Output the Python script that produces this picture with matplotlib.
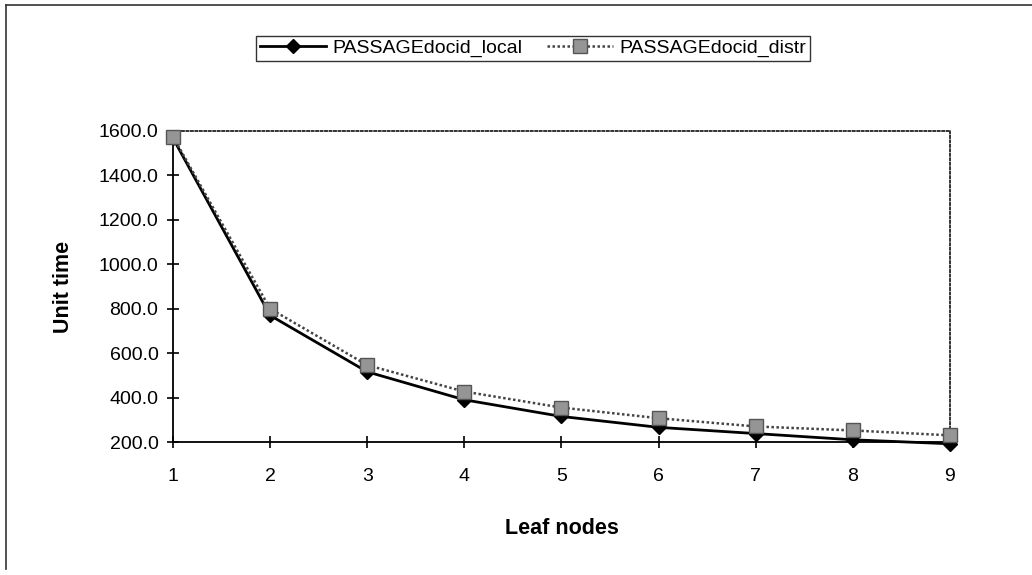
import matplotlib.pyplot as plt
from matplotlib.lines import Line2D

leaf_nodes = [1, 2, 3, 4, 5, 6, 7, 8, 9]
local_time = [1568, 770, 516, 390, 315, 266, 238, 210, 192]
distr_time = [1575, 800, 546, 427, 355, 307, 270, 252, 230]
y_ticks = [200, 400, 600, 800, 1000, 1200, 1400, 1600]

plt.rcParams["font.family"] = ["Liberation Sans", "DejaVu Sans"]

fig = plt.figure(figsize=(10.32, 5.75), dpi=100)
ax = fig.add_axes([0.1676, 0.2313, 0.7529, 0.5409])

ax.plot(leaf_nodes, local_time, color="black", lw=2.0, marker="D", ms=7,
        mfc="black", mec="black", clip_on=False, zorder=3,
        label="PASSAGEdocid_local")
ax.plot(leaf_nodes, distr_time, color="#444444", lw=1.8, ls=(0, (1, 1)),
        marker="s", ms=9.5, mfc="#959595", mec="#555555", mew=1.0,
        clip_on=False, zorder=4, label="PASSAGEdocid_distr")

ax.set_xlim(1, 9)
ax.set_ylim(200, 1600)
ax.set_xticks(leaf_nodes)
ax.set_yticks(y_ticks)
ax.set_yticklabels([f"{v:.1f}" for v in y_ticks])

ax.tick_params(axis="x", direction="inout", length=9, width=1.2, pad=14, labelsize=14)
ax.tick_params(axis="y", direction="inout", length=9, width=1.2, pad=6, labelsize=14)

for side in ["left", "bottom"]:
    ax.spines[side].set_color("black")
    ax.spines[side].set_linewidth(1.3)
for side in ["top", "right"]:
    ax.spines[side].set_color("#333333")
    ax.spines[side].set_linewidth(1.4)
    ax.spines[side].set_linestyle((0, (1, 1.3)))

ax.set_xlabel("Leaf nodes", fontsize=15.5, fontweight="bold", labelpad=24)
ax.set_ylabel("Unit time", fontsize=15.5, fontweight="bold", labelpad=18)

leg = fig.legend(loc="center", bbox_to_anchor=(0.5165, 0.9157), ncol=2,
                 fontsize=14, frameon=True, fancybox=False, handlelength=3.4,
                 columnspacing=1.3, handletextpad=0.3, borderpad=0.2)
leg.get_frame().set_edgecolor("black")
leg.get_frame().set_linewidth(1.0)

# outer chart border
fig.add_artist(Line2D([0.006, 0.006], [0.01, 0.992], color="#333333", lw=1.2))
fig.add_artist(Line2D([0.006, 1.0], [0.992, 0.992], color="#333333", lw=1.2))

fig.savefig("out.png", dpi=100)
plt.close(fig)
